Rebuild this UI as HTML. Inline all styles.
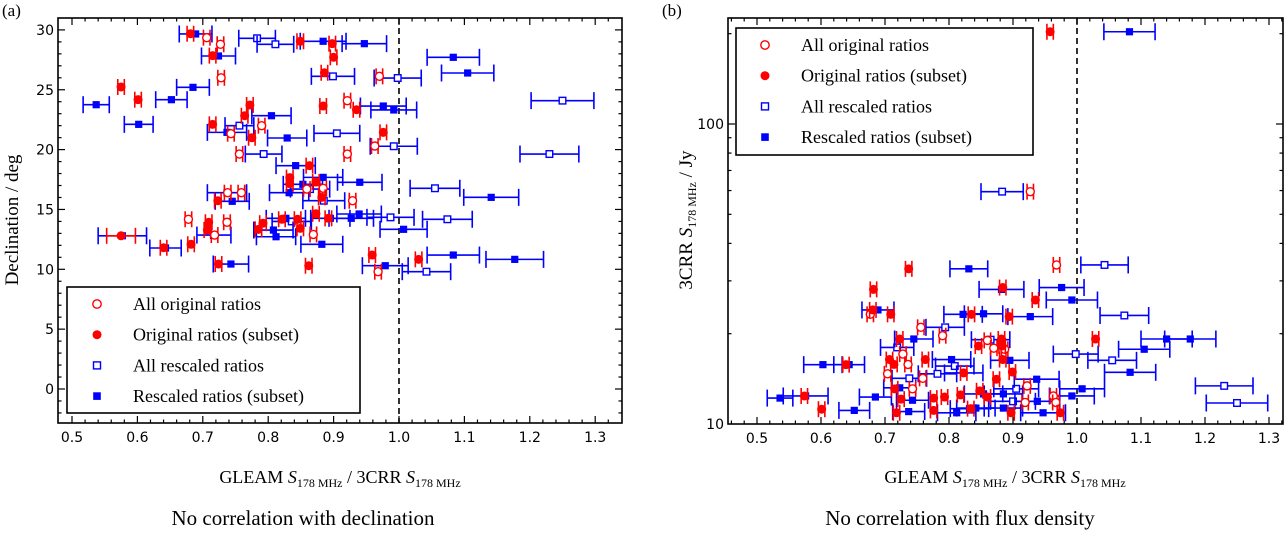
<!DOCTYPE html>
<html><head><meta charset="utf-8"><style>
html,body{margin:0;padding:0;background:#fff;}
svg{display:block;}
.tk{font-family:"DejaVu Sans","Liberation Sans",sans-serif;font-size:14px;fill:#000;}
.sf{font-family:"Liberation Serif",serif;fill:#000;}
</style></head><body>
<svg id="fig" width="1284" height="533" viewBox="0 0 1284 533" xmlns="http://www.w3.org/2000/svg"></svg>
<script>
// ---- Panel (a) data: GLEAM/3CRR ratio vs declination ----
const aOrigAllX=[.706,.727,.728,.97,.921,.79,.743,.756,.921,.963,.738,.759,.884,.929,.678,.737,.869,.968,.718,.859];
const aOrigAllY=[29.35,28.8,26.0,26.12,24.09,22.0,21.33,19.63,19.63,20.3,16.4,16.4,16.77,15.73,14.18,13.93,12.91,9.8,12.86,16.7];
const aOrigSubX=[.681,.849,.898,.9,.715,.886,.575,.601,.772,.884,.935,.764,.715,.775,.976,.863,.833,.833,.873,.882,.723,.873,.892,.821,.845,.709,.707,.785,.792,.849,.575,.64,.682,.959,1.03,.724,.862];
const aOrigSubY=[29.68,29.05,28.85,27.71,27.85,26.42,25.23,24.17,23.73,23.64,23.33,22.83,22.11,20.99,21.44,18.66,17.66,17.15,17.29,16.01,15.73,14.64,14.26,14.18,14.18,13.93,13.28,13.34,13.85,13.42,12.8,11.8,12.09,11.19,10.83,10.44,10.3];
const aOrigSubErr=[.005,.005,.005,.005,.005,.005,.005,.005,.005,.005,.005,.005,.005,.005,.005,.005,.005,.005,.005,.005,.005,.005,.005,.005,.005,.005,.005,.005,.005,.005,.022,.005,.005,.005,.005,.005,.005];
const aResAllX=[.783,.811,.899,.998,1.25,.756,.905,.992,.793,1.23,1.055,.885,.987,1.074,.717,1.042,.864,.836];
const aResAllY=[29.3,28.8,26.12,25.98,24.09,22.0,21.36,20.28,19.63,19.63,16.77,15.73,14.34,14.18,12.86,9.8,16.7,14.0];
const aResAllErr=[.028,.028,.033,.036,.048,.022,.035,.036,.028,.045,.038,.032,.036,.038,.026,.037,.03,.03];
const aResSubX=[.689,.884,.947,.724,1.083,1.105,.685,.537,.652,.976,.992,.602,.805,.737,.829,.842,.884,.94,.853,.832,.737,.745,1.141,.939,.927,1.007,.808,.812,.577,.643,.882,1.083,1.177,.743,.979,.895,.827];
const aResSubY=[29.66,29.05,28.85,27.82,27.71,26.4,25.2,23.75,24.17,23.64,23.31,22.11,22.83,21.44,20.97,18.66,17.68,17.27,17.1,16.4,16.4,15.68,16.01,14.62,14.26,13.34,13.28,12.72,12.8,11.78,12.09,11.19,10.83,10.44,10.3,14.26,14.26];
const aResSubErr=[.025,.035,.034,.026,.04,.04,.025,.02,.024,.035,.035,.022,.03,.03,.03,.03,.03,.034,.03,.03,.03,.026,.042,.034,.034,.036,.03,.03,.037,.024,.032,.04,.044,.027,.035,.03,.03];
const aXTicks=[0.5,0.6,0.7,0.8,0.9,1.0,1.1,1.2,1.3];
const aYTicks=[0,5,10,15,20,25,30];

// ---- Panel (b) data: ratio vs 3CRR flux density (Jy) ----
const bOrigAllX=[.927,.968,.677,.756,.79,.86,.87,.887,.728,.736,.704,.759,.743,.922,.963,.919,.967];
const bOrigAllY=[59.5,33.9,23.2,21.0,19.7,19.0,17.9,17.75,17.1,15.8,14.7,14.2,13.1,13.4,12.4,11.8,11.8];
const bOrigSubX=[.958,.737,.682,.884,.935,.681,.709,.835,.894,1.029,.723,.882,.846,.883,.763,.707,.714,.884,.639,.823,.899,.874,.574,.601,.725,.715,.793,.776,.818,.848,.86,.718,.776,.834,.897,.974];
const bOrigSubY=[203,32.9,28.1,28.5,25.9,24.0,23.2,23.2,22.8,19.2,19.2,19.2,18.2,18.2,16.4,16.4,15.8,16.4,15.77,14.8,14.9,14.1,12.4,11.2,12.1,13.1,12.3,12.2,12.5,12.9,12.3,10.9,11.1,11.25,10.9,10.9];
const bResAllX=[.883,1.043,1.074,.794,.719,.865,.998,1.055,.809,.782,.738,1.23,1.25,.905,.9];
const bResAllY=[59.5,33.9,23.0,21.0,18.0,19.1,17.1,16.3,15.6,14.7,14.2,13.4,11.75,13.1,11.9];
const bResAllErr=[.033,.037,.038,.03,.026,.03,.035,.038,.03,.03,.027,.045,.048,.035,.035];
const bResSubX=[1.082,.831,.882,.976,.992,.689,.822,.854,.927,.745,1.14,1.177,1.105,.603,.644,.804,.823,.895,1.083,.937,.536,.576,.685,.723,.743,.652,.737,.812,.832,.842,.885,.947,1.008,.992,.938,.885,.854];
const bResSubY=[203,32.9,28.1,28.5,25.9,24.0,23.2,23.3,22.8,19.2,19.2,19.2,17.75,15.77,15.77,16.4,14.8,16.3,14.87,14.1,12.2,12.4,12.3,13.2,12.0,11.1,11.0,10.9,11.25,11.3,11.3,10.9,13.1,12.4,11.9,12.6,12.6];
const bResSubErr=[.04,.0295,.035,.035,.04,.025,.03,.03,.035,.03,.04,.04,.04,.03,.024,.03,.03,.03,.04,.035,.02,.035,.025,.025,.025,.024,.025,.03,.03,.03,.03,.035,.035,.035,.035,.03,.03];
const bXTicks=[0.5,0.6,0.7,0.8,0.9,1.0,1.1,1.2,1.3];
const bYTicks=[10,100];

const NS="http://www.w3.org/2000/svg";
const svg=document.getElementById('fig');
function mk(tag,attrs,parent){const e=document.createElementNS(NS,tag);for(const k in attrs)e.setAttribute(k,attrs[k]);(parent||svg).appendChild(e);return e;}
const RED='#ff0000',BLUE='#0000ff';

const ax={x0:58,x1:622,y0:18,y1:423};
function axX(v){return 72+(v-0.5)*654;}
function ayY(d){return 389-d*11.97;}
const bx={x0:728,x1:1283,y0:18,y1:424};
function bxX(v){return 757+(v-0.5)*640;}
function byY(s){return 424-300*Math.log10(s/10);}

function errbar(g,cx,cy,xlo,xhi,col,cap){
  mk('line',{x1:xlo,y1:cy,x2:xhi,y2:cy,stroke:col,'stroke-width':1.6},g);
  mk('line',{x1:xlo,y1:cy-cap,x2:xlo,y2:cy+cap,stroke:col,'stroke-width':1.6},g);
  mk('line',{x1:xhi,y1:cy-cap,x2:xhi,y2:cy+cap,stroke:col,'stroke-width':1.6},g);
}
function drawSeries(X,Y,E,fx,fy,kind,name,parent){
  const g=mk('g',{},parent);
  
  
  for(let i=0;i<X.length;i++){
    const cx=fx(X[i]),cy=fy(Y[i]);
    const e=E?E[i]:0.005;
    const col=(kind==='co'||kind==='cf')?RED:BLUE;
    const p=mk('g',{},g);
    
    
    errbar(p,cx,cy,fx(X[i]-e),fx(X[i]+e),col,(kind==='co'||kind==='cf')?8:8.5);
    if(kind==='co')mk('circle',{cx:cx,cy:cy,r:4,fill:'#fff',stroke:RED,'stroke-width':1.4},p);
    else if(kind==='cf')mk('circle',{cx:cx,cy:cy,r:4.5,fill:RED},p);
    else if(kind==='so')mk('rect',{x:cx-3.3,y:cy-3.3,width:6.6,height:6.6,fill:'#fff',stroke:BLUE,'stroke-width':1.4},p);
    else mk('rect',{x:cx-3.6,y:cy-3.6,width:7.2,height:7.2,fill:BLUE},p);
  }
}
function frame(b,name){
  const r=mk('rect',{x:b.x0,y:b.y0,width:b.x1-b.x0,height:b.y1-b.y0,fill:'none',stroke:'#000','stroke-width':1.6});
  
  
}
function text(x,y,str,cls,size,anchor,name,extra){
  const t=mk('text',Object.assign({x:x,y:y,'class':cls,'font-size':size,'text-anchor':anchor||'start'},extra||{}));
  t.innerHTML=str;
  
  
  return t;
}
function xTicksDraw(b,fx,ticks,name){
  const g=mk('g',{});
  
  
  for(let v=0.46;v<=1.34;v+=0.02){
    const vv=Math.round(v*100)/100, x=fx(vv);
    if(x<b.x0+1||x>b.x1-1)continue;
    const major=Math.abs(vv*10-Math.round(vv*10))<1e-6;
    const L=major?7:3.5;
    mk('line',{x1:x,y1:b.y1,x2:x,y2:b.y1-L,stroke:'#000','stroke-width':1.2},g);
    mk('line',{x1:x,y1:b.y0,x2:x,y2:b.y0+L,stroke:'#000','stroke-width':1.2},g);
  }
  ticks.forEach(v=>{const t=mk('text',{x:fx(v),y:b.y1+19,'class':'tk','text-anchor':'middle'},g);t.textContent=v.toFixed(1);});
}
frame(ax,'panel-a-frame');
xTicksDraw(ax,axX,aXTicks,'panel-a-x-axis');
(function(){
  const g=mk('g',{});
  
  
  for(let d=-2;d<=32;d++){const y=ayY(d);if(y<ax.y0+1||y>ax.y1-1)continue;const L=d%5===0?7:3.5;
    mk('line',{x1:ax.x0,y1:y,x2:ax.x0+L,y2:y,stroke:'#000','stroke-width':1.2},g);
    mk('line',{x1:ax.x1,y1:y,x2:ax.x1-L,y2:y,stroke:'#000','stroke-width':1.2},g);}
  aYTicks.forEach(d=>{const t=mk('text',{x:ax.x0-4,y:ayY(d)+5,'class':'tk','text-anchor':'end'},g);t.textContent=d;});
})();
const dla=mk('line',{x1:axX(1.0),y1:ax.y0,x2:axX(1.0),y2:ax.y1,stroke:'#000','stroke-width':1.6,'stroke-dasharray':'6,4'});


const pa=mk('g',{});
drawSeries(aResAllX,aResAllY,aResAllErr,axX,ayY,'so','a-all-rescaled',pa);
drawSeries(aResSubX,aResSubY,aResSubErr,axX,ayY,'sf','a-rescaled-subset',pa);
drawSeries(aOrigAllX,aOrigAllY,null,axX,ayY,'co','a-all-original',pa);
drawSeries(aOrigSubX,aOrigSubY,aOrigSubErr,axX,ayY,'cf','a-original-subset',pa);

frame(bx,'panel-b-frame');
xTicksDraw(bx,bxX,bXTicks,'panel-b-x-axis');
(function(){
  const g=mk('g',{});
  
  
  const vals=[20,30,40,50,60,70,80,90,100,200];
  vals.forEach(s=>{const y=byY(s);const L=s===100?7:3.5;
    mk('line',{x1:bx.x0,y1:y,x2:bx.x0+L,y2:y,stroke:'#000','stroke-width':1.2},g);
    mk('line',{x1:bx.x1,y1:y,x2:bx.x1-L,y2:y,stroke:'#000','stroke-width':1.2},g);});
  bYTicks.forEach(s=>{const t=mk('text',{x:bx.x0-4,y:byY(s)+5,'class':'tk','text-anchor':'end'},g);t.textContent=s;});
})();
const dlb=mk('line',{x1:bxX(1.0),y1:bx.y0,x2:bxX(1.0),y2:bx.y1,stroke:'#000','stroke-width':1.6,'stroke-dasharray':'6,4'});


const pb=mk('g',{});
drawSeries(bResAllX,bResAllY,bResAllErr,bxX,byY,'so','b-all-rescaled',pb);
drawSeries(bResSubX,bResSubY,bResSubErr,bxX,byY,'sf','b-rescaled-subset',pb);
drawSeries(bOrigAllX,bOrigAllY,null,bxX,byY,'co','b-all-original',pb);
drawSeries(bOrigSubX,bOrigSubY,null,bxX,byY,'cf','b-original-subset',pb);

function legend(x0,y0,w,h,mx,tx,name){
  const g=mk('g',{});
  
  
  mk('rect',{x:x0,y:y0,width:w,height:h,fill:'#fff',stroke:'#000','stroke-width':1.6},g);
  const labels=['All original ratios','Original ratios (subset)','All rescaled ratios','Rescaled ratios (subset)'];
  const kinds=['co','cf','so','sf'];
  for(let i=0;i<4;i++){
    const y=y0+17+i*30.7;
    const e=mk('g',{},g);
    
    
    if(kinds[i]==='co')mk('circle',{cx:mx,cy:y,r:4.2,fill:'#fff',stroke:RED,'stroke-width':1.4},e);
    else if(kinds[i]==='cf')mk('circle',{cx:mx,cy:y,r:4.5,fill:RED},e);
    else if(kinds[i]==='so')mk('rect',{x:mx-3.5,y:y-3.5,width:7,height:7,fill:'#fff',stroke:BLUE,'stroke-width':1.4},e);
    else mk('rect',{x:mx-3.8,y:y-3.8,width:7.6,height:7.6,fill:BLUE},e);
    const t=mk('text',{x:tx,y:y+6,'class':'sf','font-size':18},e);t.textContent=labels[i];
  }
}
legend(67,287,293,126,97,133,'panel-a-legend');
legend(736,28,297,127,765,801,'panel-b-legend');

text(2,16,'(a)','sf',17,'start','panel-a-label');
text(662,16,'(b)','sf',17,'start','panel-b-label');
text(18,220,'Declination / deg','sf',19,'middle','panel-a-y-axis-title',{transform:'rotate(-90 18 220)'});
text(692,220,'3CRR <tspan font-style="italic">S</tspan><tspan font-size="12" dy="4">178 MHz</tspan><tspan dy="-4"> / Jy</tspan>','sf',19,'middle','panel-b-y-axis-title',{transform:'rotate(-90 692 220)'});
const xt='GLEAM <tspan font-style="italic">S</tspan><tspan font-size="12" dy="4">178 MHz</tspan><tspan dy="-4"> / 3CRR </tspan><tspan font-style="italic">S</tspan><tspan font-size="12" dy="4">178 MHz</tspan>';
text(340,483,xt,'sf',18,'middle','panel-a-x-axis-title');
text(1005,483,xt,'sf',18,'middle','panel-b-x-axis-title');
text(303,525,'No correlation with declination','sf',21,'middle','panel-a-caption');
text(960,525,'No correlation with flux density','sf',21,'middle','panel-b-caption');
</script>
</body></html>
